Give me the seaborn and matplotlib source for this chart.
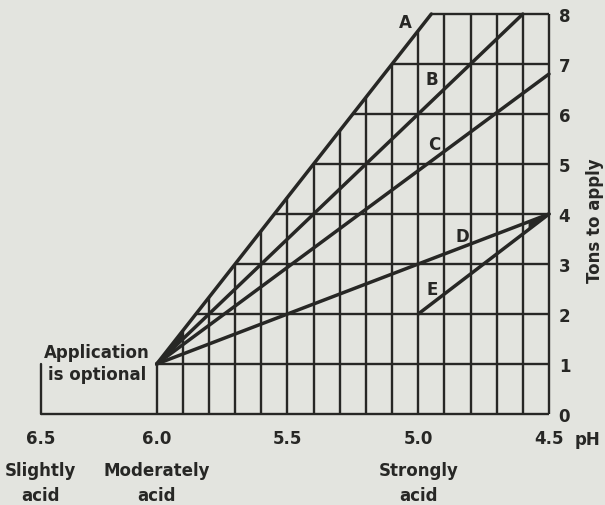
import matplotlib

matplotlib.use("Agg")

import matplotlib.pyplot as plt
import numpy as np
import pandas as pd
import seaborn as sns

BG = "#e3e4df"
INK = "#272725"
FONT = ["DejaVu Sans"]

# x axis (pH), drawn from 6.5 on the left to 4.5 on the right
PH_TICKS = [6.5, 6.0, 5.5, 5.0, 4.5]
PH_TICK_LABELS = ["6.5", "6.0", "5.5", "5.0", "4.5"]
ACIDITY_PH = [6.5, 6.0, 5.0]
ACIDITY_LABELS = ["Slightly\nacid", "Moderately\nacid", "Strongly\nacid"]

# y axis (tons of lime)
TONS_TICKS = [0, 1, 2, 3, 4, 5, 6, 7, 8]

# chart grid
GRID_PH = [6.0, 5.9, 5.8, 5.7, 5.6, 5.5, 5.4, 5.3, 5.2, 5.1,
           5.0, 4.9, 4.8, 4.7, 4.6, 4.5]
GRID_TONS = [1, 2, 3, 4, 5, 6, 7, 8]

# the five lime requirement lines
A_PH = [6.0, 4.95]
A_TONS = [1, 8]
B_PH = [6.0, 4.6]
B_TONS = [1, 8]
C_PH = [6.0, 4.5]
C_TONS = [1, 6.8]
D_PH = [6.0, 4.5]
D_TONS = [1, 4]
E_PH = [5.0, 4.5]
E_TONS = [2, 4]

LETTERS = ["A", "B", "C", "D", "E"]
LETTER_PH = [5.05, 4.947, 4.94, 4.83, 4.947]
LETTER_TONS = [7.84, 6.7, 5.4, 3.56, 2.5]

# the "optional" bracket left of pH 6.0
OPTIONAL_PH = [6.5, 6.5]
OPTIONAL_TONS = [0, 1]

# the 6.5-6.0 stretch is drawn narrower than the rest of the scale
SQUEEZE = 0.887


def _fwd(x):
    x = np.asarray(x, dtype=float)
    return np.where(x <= 6.0, x - 6.0, (x - 6.0) * SQUEEZE)


def _inv(y):
    y = np.asarray(y, dtype=float)
    return np.where(y <= 0.0, y + 6.0, y / SQUEEZE + 6.0)


def _line_at(ph, line_ph, line_tons):
    order = np.argsort(line_ph)
    return np.interp(ph, np.asarray(line_ph)[order], np.asarray(line_tons)[order])


def main() -> None:
    sns.set_theme(style="white")
    plt.rcParams["font.family"] = FONT
    plt.rcParams["font.weight"] = "bold"

    fig = plt.figure(figsize=(6.05, 5.06), dpi=100, facecolor=BG)
    ax = fig.add_axes([40.7 / 605, 91 / 506, 508.3 / 605, 400 / 506])
    ax.set_facecolor(BG)
    ax.set_xscale("function", functions=(_fwd, _inv))
    ax.set_xlim(6.5, 4.5)
    ax.set_ylim(0, 8)
    for side in ax.spines.values():
        side.set_visible(False)

    grid_kw = dict(color=INK, lw=1.7, clip_on=False, zorder=2)

    # vertical grid lines stop at line A
    tops = [min(8, _line_at(p, A_PH, A_TONS)) for p in GRID_PH]
    ax.vlines(GRID_PH, 0, tops, **grid_kw)
    # horizontal grid lines start at line A
    starts = [np.interp(t, A_TONS, A_PH) for t in GRID_TONS]
    ax.hlines(GRID_TONS, starts, GRID_PH[-1], **grid_kw)
    ax.hlines(0, PH_TICKS[0], PH_TICKS[-1], **grid_kw)
    ax.plot(OPTIONAL_PH, OPTIONAL_TONS, **grid_kw)

    curves = pd.concat(
        [
            pd.DataFrame({"line": name, "ph": ph, "tons": tons})
            for name, ph, tons in [
                ("A", A_PH, A_TONS),
                ("B", B_PH, B_TONS),
                ("C", C_PH, C_TONS),
                ("D", D_PH, D_TONS),
                ("E", E_PH, E_TONS),
            ]
        ]
    )
    sns.lineplot(
        data=curves, x="ph", y="tons", units="line", estimator=None, sort=False,
        color=INK, lw=2.5, ax=ax, legend=False, zorder=3,
    )
    for ln in ax.lines:
        ln.set_clip_on(False)
        ln.set_solid_capstyle("round")
    ax.set_xlabel("")
    ax.set_ylabel("")

    # filled wedges where the lines converge
    for (p1, t1), (p2, t2), end in [
        ((A_PH, A_TONS), (B_PH, B_TONS), 5.9),
        ((B_PH, B_TONS), (C_PH, C_TONS), 5.95),
        ((C_PH, C_TONS), (D_PH, D_TONS), 5.975),
    ]:
        xs = np.linspace(6.0, end, 10)
        ax.fill_between(xs, _line_at(xs, p1, t1), _line_at(xs, p2, t2),
                        color=INK, lw=0, zorder=3)
    xs = np.linspace(4.58, 4.5, 10)
    ax.fill_between(xs, _line_at(xs, D_PH, D_TONS), _line_at(xs, E_PH, E_TONS),
                    color=INK, lw=0, zorder=3)

    for letter, p, t in zip(LETTERS, LETTER_PH, LETTER_TONS):
        ax.text(p, t, letter, ha="center", va="center", fontsize=12,
                fontweight="bold", color=INK)

    ax.text(6.257, 1.02, "Application\nis optional", ha="center", va="center",
            fontsize=12, fontweight="bold", color=INK, linespacing=1.25)

    ax.set_xticks(PH_TICKS)
    ax.set_xticklabels(PH_TICK_LABELS)
    ax.xaxis.set_minor_locator(matplotlib.ticker.NullLocator())
    ax.tick_params(axis="x", length=0, pad=11, labelsize=12, labelcolor=INK)
    ax.set_yticks(TONS_TICKS)
    ax.yaxis.tick_right()
    ax.tick_params(axis="y", length=0, pad=7, labelsize=12, labelcolor=INK)
    for lab in ax.get_xticklabels() + ax.get_yticklabels():
        lab.set_fontweight("bold")

    ax.annotate("pH", xy=(4.5, 0), xytext=(38, -25), textcoords="offset pixels",
                ha="center", va="center", fontsize=12, fontweight="bold", color=INK)
    for p, lab in zip(ACIDITY_PH, ACIDITY_LABELS):
        ax.annotate(lab, xy=(p, 0), xytext=(0, -69), textcoords="offset pixels",
                    ha="center", va="center", fontsize=12, fontweight="bold",
                    color=INK, linespacing=1.5)

    ax.text((595 - 40.7) / 508.3, 3.88, "Tons to apply", rotation=90,
            transform=ax.get_yaxis_transform(), ha="center", va="center",
            fontsize=12, fontweight="bold", color=INK)

    fig.savefig("out.png", dpi=100, facecolor=BG)
    plt.close(fig)


if __name__ == "__main__":
    main()
